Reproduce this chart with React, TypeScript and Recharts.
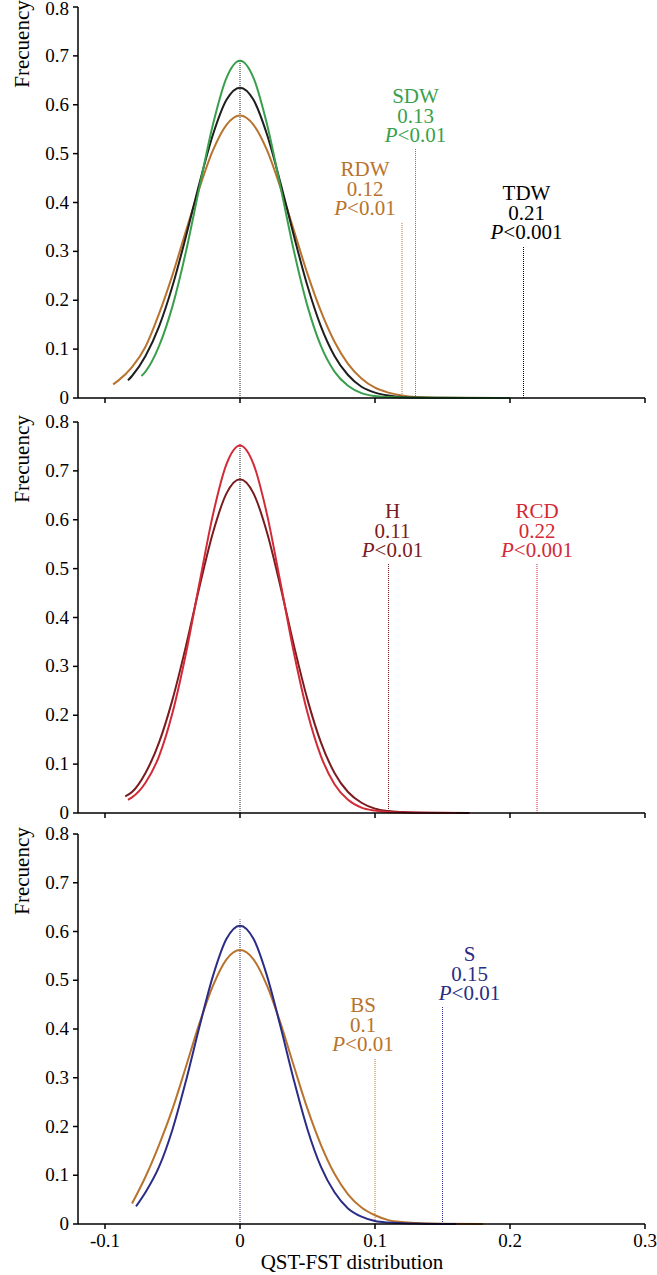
import React from "react";
import { LineChart, Line, XAxis, YAxis, ReferenceLine } from "recharts";

const FONT = '"Liberation Serif", "Times New Roman", serif';
const X_TICKS = [-0.1, 0, 0.1, 0.2, 0.3];
const Y_TICKS = [0, 0.1, 0.2, 0.3, 0.4, 0.5, 0.6, 0.7, 0.8];

const ORANGE = "#b8732e";
const GREEN = "#3a9f4c";
const BLACK = "#1e1e1e";
const RED = "#d22a36";
const DARKRED = "#7a1b20";
const NAVY = "#2a2c86";

// [x, frequency]
const RDW_CURVE: [number, number][] = [
  [-0.094, 0.028], [-0.09, 0.036], [-0.08, 0.063], [-0.07, 0.105], [-0.06, 0.172], [-0.05, 0.252],
  [-0.04, 0.342], [-0.03, 0.43], [-0.02, 0.507], [-0.01, 0.559], [0, 0.578], [0.01, 0.559],
  [0.02, 0.507], [0.03, 0.43], [0.04, 0.342], [0.05, 0.254], [0.06, 0.177], [0.07, 0.115],
  [0.08, 0.07], [0.09, 0.04], [0.1, 0.021], [0.11, 0.011], [0.12, 0.005], [0.13, 0.002],
  [0.15, 0.0005], [0.19, 0],
];
const TDW_CURVE: [number, number][] = [
  [-0.083, 0.036], [-0.08, 0.045], [-0.07, 0.086], [-0.06, 0.146], [-0.05, 0.229], [-0.04, 0.331],
  [-0.03, 0.44], [-0.02, 0.539], [-0.01, 0.61], [0, 0.635], [0.01, 0.61], [0.02, 0.539],
  [0.03, 0.44], [0.04, 0.331], [0.05, 0.229], [0.06, 0.146], [0.07, 0.086], [0.08, 0.047],
  [0.09, 0.023], [0.1, 0.011], [0.11, 0.005], [0.12, 0.002], [0.14, 0.0005], [0.17, 0],
];
const SDW_CURVE: [number, number][] = [
  [-0.073, 0.045], [-0.07, 0.054], [-0.06, 0.106], [-0.05, 0.188], [-0.04, 0.3], [-0.03, 0.432],
  [-0.02, 0.56], [-0.01, 0.655], [0, 0.69], [0.01, 0.655], [0.02, 0.56], [0.03, 0.432],
  [0.04, 0.3], [0.05, 0.188], [0.06, 0.106], [0.07, 0.054], [0.08, 0.025], [0.09, 0.01],
  [0.1, 0.004], [0.11, 0.002], [0.13, 0.0005], [0.2, 0],
];
const H_CURVE: [number, number][] = [
  [-0.085, 0.034], [-0.08, 0.043], [-0.07, 0.082], [-0.06, 0.144], [-0.05, 0.232], [-0.04, 0.342],
  [-0.03, 0.463], [-0.02, 0.574], [-0.01, 0.654], [0, 0.683], [0.01, 0.654], [0.02, 0.574],
  [0.03, 0.463], [0.04, 0.342], [0.05, 0.232], [0.06, 0.144], [0.07, 0.082], [0.08, 0.043],
  [0.09, 0.021], [0.1, 0.009], [0.11, 0.004], [0.12, 0.002], [0.14, 0.0005], [0.17, 0],
];
const RCD_CURVE: [number, number][] = [
  [-0.083, 0.027], [-0.08, 0.032], [-0.07, 0.062], [-0.06, 0.116], [-0.05, 0.205], [-0.04, 0.327],
  [-0.03, 0.471], [-0.02, 0.611], [-0.01, 0.714], [0, 0.752], [0.01, 0.714], [0.02, 0.611],
  [0.03, 0.471], [0.04, 0.327], [0.05, 0.205], [0.06, 0.116], [0.07, 0.059], [0.08, 0.027],
  [0.09, 0.011], [0.1, 0.005], [0.11, 0.002], [0.13, 0.0005], [0.16, 0],
];
const S_CURVE: [number, number][] = [
  [-0.077, 0.036], [-0.07, 0.065], [-0.06, 0.117], [-0.05, 0.194], [-0.04, 0.294], [-0.03, 0.405],
  [-0.02, 0.509], [-0.01, 0.585], [0, 0.612], [0.01, 0.585], [0.02, 0.509], [0.03, 0.405],
  [0.04, 0.294], [0.05, 0.194], [0.06, 0.117], [0.07, 0.065], [0.08, 0.032], [0.09, 0.015],
  [0.1, 0.006], [0.11, 0.003], [0.13, 0.001], [0.16, 0],
];
const BS_CURVE: [number, number][] = [
  [-0.08, 0.042], [-0.07, 0.097], [-0.06, 0.162], [-0.05, 0.236], [-0.04, 0.323], [-0.03, 0.412],
  [-0.02, 0.489], [-0.01, 0.543], [0, 0.562], [0.01, 0.543], [0.02, 0.489], [0.03, 0.412],
  [0.04, 0.323], [0.05, 0.236], [0.06, 0.162], [0.07, 0.103], [0.08, 0.061], [0.09, 0.034],
  [0.1, 0.018], [0.11, 0.008], [0.12, 0.004], [0.13, 0.002], [0.15, 0.0005], [0.18, 0],
];

// observed QST-FST per trait: name, value, P, line height
const TOP_MARKERS = [
  { name: "RDW", x: 0.12, top: 0.36, p: "<0.01", color: ORANGE, dx: -37 },
  { name: "SDW", x: 0.13, top: 0.51, p: "<0.01", color: GREEN, dx: 0 },
  { name: "TDW", x: 0.21, top: 0.31, p: "<0.001", color: "#000", dx: 3 },
];
const MID_MARKERS = [
  { name: "H", x: 0.11, top: 0.51, p: "<0.01", color: DARKRED, dx: 4 },
  { name: "RCD", x: 0.22, top: 0.51, p: "<0.001", color: RED, dx: 0 },
];
const BOTTOM_MARKERS = [
  { name: "BS", x: 0.1, top: 0.34, p: "<0.01", color: ORANGE, dx: -12 },
  { name: "S", x: 0.15, top: 0.445, p: "<0.01", color: NAVY, dx: 27 },
];

type Marker = { name: string; x: number; top: number; p: string; color: string; dx: number };
type Curve = { key: string; points: [number, number][]; color: string };

const TXT = { fontFamily: FONT };

function MarkerLabel({ viewBox, m }: { viewBox?: any; m: Marker }) {
  if (!viewBox) return null;
  const x = viewBox.x + m.dx;
  const y = viewBox.y;
  return (
    <g>
      <text x={x} y={y - 46} fill={m.color} fontSize={21} textAnchor="middle" style={TXT}>{m.name}</text>
      <text x={x} y={y - 26} fill={m.color} fontSize={21} textAnchor="middle" style={TXT}>{m.x}</text>
      <text x={x} y={y - 7} fill={m.color} fontSize={21} textAnchor="middle" style={TXT}>
        <tspan fontStyle="italic">P</tspan>{m.p}
      </text>
    </g>
  );
}

function XTick({ x, y, payload, show }: any) {
  if (!show) return null;
  return (
    <text x={x} y={y + 14} textAnchor="middle" fontSize={19} fill="#000" style={TXT}>
      {payload.value}
    </text>
  );
}

function YTick({ x, y, payload }: any) {
  return (
    <text x={x} y={y + 6} textAnchor="end" fontSize={19} fill="#000" style={TXT}>
      {payload.value}
    </text>
  );
}

// each panel: plot top = top + padTop, 0.8 -> 0 spans ~391px
function Panel({ top, padTop, height, axisHeight, curves, markers, zeroTop, zeroColor, bottom }: {
  top: number; padTop: number; height: number; axisHeight: number; curves: Curve[]; markers: Marker[];
  zeroTop: number; zeroColor: string; bottom?: boolean;
}) {
  return (
    <div style={{ position: "absolute", left: 0, top, width: 657, height }}>
      <LineChart width={657} height={height} margin={{ top: padTop, right: 12, bottom: 0, left: 38 }}>
        <XAxis
          type="number" dataKey="x" domain={[-0.12, 0.3]} ticks={X_TICKS} allowDataOverflow
          stroke="#000" strokeWidth={1.5} tickSize={5} tickMargin={4} height={axisHeight}
          tick={(p: any) => <XTick {...p} show={bottom} />}
          label={bottom ? () => (
            <text x={352} y={height - 6} textAnchor="middle" fontSize={21} fill="#000" style={TXT}>
              QST-FST distribution
            </text>
          ) : undefined}
        />
        <YAxis
          type="number" domain={[0, 0.8]} ticks={Y_TICKS} width={40}
          stroke="#000" strokeWidth={1.5} tickSize={5} tickMargin={4} tick={(p: any) => <YTick {...p} />}
          label={() => (
            <text x={29} y={padTop + 37} transform={`rotate(-90, 29, ${padTop + 37})`} textAnchor="middle"
              fontSize={21} fill="#000" style={TXT}>Frecuency</text>
          )}
        />
        <ReferenceLine segment={[{ x: 0, y: 0 }, { x: 0, y: zeroTop }]} stroke={zeroColor}
          strokeWidth={1} strokeDasharray="1 1" />
        {markers.map((m) => (
          <ReferenceLine key={m.name} segment={[{ x: m.x, y: 0 }, { x: m.x, y: m.top }]}
            stroke={m.color} strokeWidth={1} strokeDasharray="1 1"
            label={(props: any) => <MarkerLabel viewBox={props.viewBox} m={m} />} />
        ))}
        {curves.map((c) => (
          <Line key={c.key} data={c.points.map(([x, y]) => ({ x, y }))} dataKey="y" type="monotone"
            stroke={c.color} strokeWidth={2} dot={false} isAnimationActive={false} />
        ))}
      </LineChart>
    </div>
  );
}

export default function App() {
  return (
    <div style={{ position: "absolute", left: 0, top: 0, width: 657, height: 1275, background: "#fff", fontFamily: FONT }}>
      <Panel top={0} padTop={7} height={420} axisHeight={22} zeroTop={0.692} zeroColor="#222"
        curves={[
          { key: "RDW", points: RDW_CURVE, color: ORANGE },
          { key: "TDW", points: TDW_CURVE, color: BLACK },
          { key: "SDW", points: SDW_CURVE, color: GREEN },
        ]}
        markers={TOP_MARKERS} />
      <Panel top={405} padTop={17} height={430} axisHeight={22} zeroTop={0.755} zeroColor="#222"
        curves={[
          { key: "H", points: H_CURVE, color: DARKRED },
          { key: "RCD", points: RCD_CURVE, color: RED },
        ]}
        markers={MID_MARKERS} />
      <Panel top={817} padTop={17} height={458} axisHeight={51} zeroTop={0.625} zeroColor="#2f3170" bottom
        curves={[
          { key: "BS", points: BS_CURVE, color: ORANGE },
          { key: "S", points: S_CURVE, color: NAVY },
        ]}
        markers={BOTTOM_MARKERS} />
    </div>
  );
}
